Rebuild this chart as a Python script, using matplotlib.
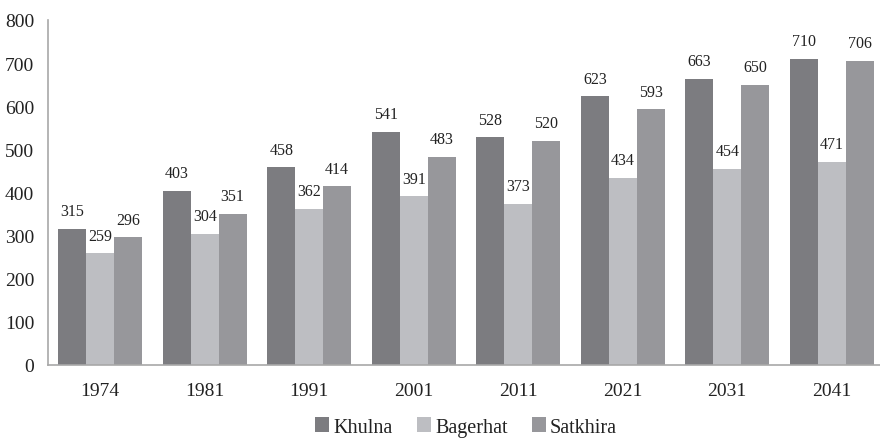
import matplotlib
matplotlib.use("Agg")
import matplotlib.pyplot as plt
import numpy as np

years = ["1974", "1981", "1991", "2001", "2011", "2021", "2031", "2041"]
khulna = [315, 403, 458, 541, 528, 623, 663, 710]
bagerhat = [259, 304, 362, 391, 373, 434, 454, 471]
satkhira = [296, 351, 414, 483, 520, 593, 650, 706]
series = [("Khulna", khulna, "#7c7c80"),
          ("Bagerhat", bagerhat, "#bdbec2"),
          ("Satkhira", satkhira, "#97979b")]

plt.rcParams['font.family'] = ['Liberation Serif', 'DejaVu Serif']
W, H = 880, 439
fig = plt.figure(figsize=(W/100, H/100), dpi=100)
ax = fig.add_axes([48/W, 1-366/H, 836/W, 345/H])

x = np.arange(len(years))
bw = 0.267
for i, (name, vals, col) in enumerate(series):
    pos = x + (i - 1) * bw
    bars = ax.bar(pos, vals, bw, color=col, label=name, edgecolor='none')
    ax.bar_label(bars, labels=[str(v) for v in vals], padding=7, fontsize=11.5, color="#222222")

ax.set_xlim(-0.5, len(years) - 0.5)
ax.set_ylim(0, 800)
ax.set_yticks(range(0, 801, 100))
ax.set_xticks(x)
ax.set_xticklabels(years)
ax.tick_params(axis='both', length=0, labelsize=14, labelcolor="#222222")
ax.tick_params(axis='y', pad=10)
ax.tick_params(axis='x', pad=12)
for s in ['top', 'right']:
    ax.spines[s].set_visible(False)
for s in ['left', 'bottom']:
    ax.spines[s].set_color("#a8a8a8")
    ax.spines[s].set_linewidth(1.2)

fig.legend(loc='center', bbox_to_anchor=(466/W, 1-428/H), ncol=3, frameon=False,
           fontsize=14.5, handlelength=0.7, handleheight=0.7, handletextpad=0.2,
           columnspacing=1.2, labelcolor="#222222")

fig.savefig("out.png", dpi=100)
